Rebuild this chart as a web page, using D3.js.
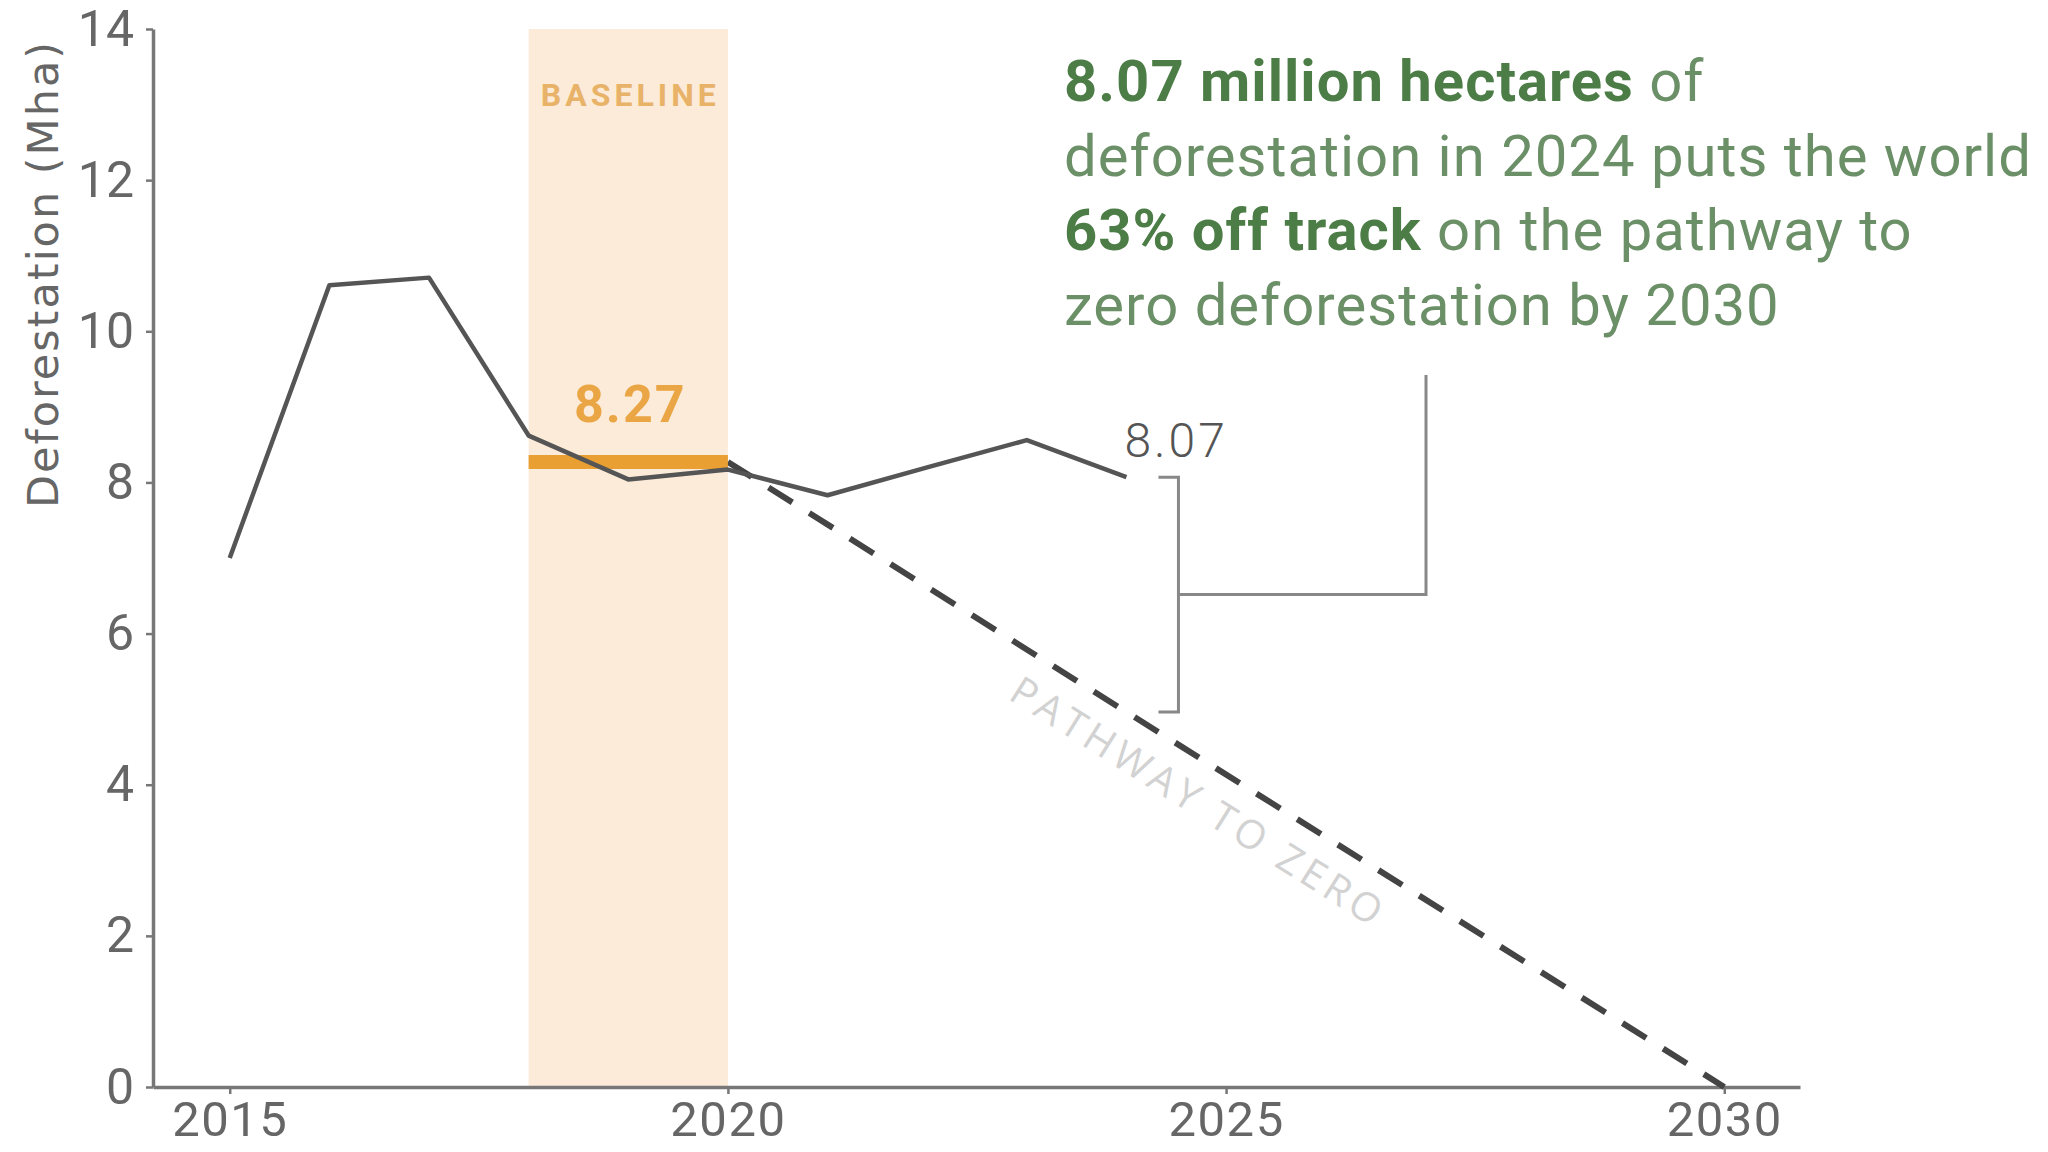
<!DOCTYPE html>
<html>
<head>
<meta charset="utf-8">
<script src="https://cdn.jsdelivr.net/npm/d3@7"></script>
<style>
  body { margin: 0; background: #fff; }
  svg { display: block; }
  .axis path, .axis line { stroke: #777; }
  .axis text { fill: #666; font-family: Roboto, sans-serif; }
</style>
</head>
<body>
<svg id="chart" width="2048" height="1152"></svg>
<script>
// data
var years = [2015, 2016, 2017, 2018, 2019, 2020, 2021, 2022, 2023, 2024];
var deforestation = [7.0, 10.61, 10.71, 8.62, 8.04, 8.17, 7.83, 8.2, 8.56, 8.07];
var baselineYears = [2018, 2020];
var baselineValue = 8.27;
var pathwayYears = [2020, 2030];
var pathwayValues = [8.27, 0];
var xTicks = [2015, 2020, 2025, 2030];
var yTicks = [0, 2, 4, 6, 8, 10, 12, 14];
var noteLines = [
  [["8.07 million hectares", true], [" of", false]],
  [["deforestation in 2024 puts the world", false]],
  [["63% off track", true], [" on the pathway to", false]],
  [["zero deforestation by 2030", false]]
];

var svg = d3.select("#chart");

var x = d3.scaleLinear().domain([2014.23, 2030.76]).range([153, 1800]);
var y = d3.scaleLinear().domain([0, 14]).range([1087, 29]);

// baseline band
svg.append("rect")
  .attr("x", x(baselineYears[0]))
  .attr("y", y(14))
  .attr("width", x(baselineYears[1]) - x(baselineYears[0]))
  .attr("height", y(0) - y(14))
  .attr("fill", "#fcebd8");

svg.append("text")
  .attr("x", (x(baselineYears[0]) + x(baselineYears[1])) / 2 + 2)
  .attr("y", 106)
  .attr("text-anchor", "middle")
  .attr("font-family", "Roboto, sans-serif")
  .attr("font-weight", "bold")
  .attr("font-size", 32)
  .attr("letter-spacing", 4)
  .attr("fill", "#e8b368")
  .text("BASELINE");

// axes
var xAxis = svg.append("g")
  .attr("class", "axis")
  .attr("transform", "translate(0," + y(0) + ")")
  .call(d3.axisBottom(x).tickValues(xTicks).tickFormat(d3.format("d")).tickSize(7).tickSizeOuter(0).tickPadding(6));
xAxis.select(".domain").attr("stroke-width", 3.5);
xAxis.selectAll("line").attr("stroke-width", 2.5);
xAxis.selectAll("text").attr("font-size", 49).attr("letter-spacing", 1.5).attr("dy", "0.74em");

var yAxis = svg.append("g")
  .attr("class", "axis")
  .attr("transform", "translate(" + x.range()[0] + ",0)")
  .call(d3.axisLeft(y).tickValues(yTicks).tickSize(7).tickSizeOuter(0).tickPadding(12));
yAxis.select(".domain").attr("stroke-width", 3.5);
yAxis.selectAll("line").attr("stroke-width", 2.5);
yAxis.selectAll("text").attr("font-size", 50);

svg.append("text")
  .attr("transform", "translate(58," + 274 + ") rotate(-90)")
  .attr("text-anchor", "middle")
  .attr("font-family", "'DejaVu Sans', sans-serif")
  .attr("font-size", 43)
  .attr("letter-spacing", 2)
  .attr("fill", "#666")
  .text("Deforestation (Mha)");

// pathway to zero
svg.append("line")
  .attr("x1", x(pathwayYears[0])).attr("y1", y(pathwayValues[0]))
  .attr("x2", x(pathwayYears[1])).attr("y2", y(pathwayValues[1]))
  .attr("stroke", "#444")
  .attr("stroke-width", 6)
  .attr("stroke-dasharray", "28,20");

var ang = Math.atan2(y(pathwayValues[1]) - y(pathwayValues[0]), x(pathwayYears[1]) - x(pathwayYears[0])) * 180 / Math.PI;
svg.append("text")
  .attr("transform", "translate(" + 1197 + "," + 805 + ") rotate(" + ang + ")")
  .attr("text-anchor", "middle")
  .attr("dominant-baseline", "middle")
  .attr("font-family", "'Open Sans', sans-serif")
  .attr("font-size", 40)
  .attr("letter-spacing", 5)
  .attr("fill", "#d2d2d2")
  .text("PATHWAY TO ZERO");

// baseline value bar
svg.append("line")
  .attr("x1", x(baselineYears[0])).attr("x2", x(baselineYears[1]))
  .attr("y1", y(baselineValue)).attr("y2", y(baselineValue))
  .attr("stroke", "#e99f32")
  .attr("stroke-width", 14);

svg.append("text")
  .attr("x", (x(baselineYears[0]) + x(baselineYears[1])) / 2 + 2)
  .attr("y", 422)
  .attr("text-anchor", "middle")
  .attr("font-family", "Roboto, sans-serif")
  .attr("font-weight", "bold")
  .attr("font-size", 52)
  .attr("letter-spacing", 2)
  .attr("fill", "#eaa545")
  .text(d3.format(".2f")(baselineValue));

// data line
svg.append("path")
  .datum(years.map(function(d, i) { return [d, deforestation[i]]; }))
  .attr("fill", "none")
  .attr("stroke", "#555")
  .attr("stroke-width", 4.5)
  .attr("stroke-linejoin", "round")
  .attr("d", d3.line().x(function(d) { return x(d[0]); }).y(function(d) { return y(d[1]); }));

var last = years.length - 1;
svg.append("text")
  .attr("x", x(years[last]) - 2)
  .attr("y", y(deforestation[last]) - 20)
  .attr("font-family", "Roboto, sans-serif")
  .attr("font-weight", 300)
  .attr("font-size", 48)
  .attr("letter-spacing", 3)
  .attr("fill", "#555")
  .text(d3.format(".2f")(deforestation[last]));

// gap bracket
var pathAt2024 = pathwayValues[0] + (pathwayValues[1] - pathwayValues[0]) * (years[last] - pathwayYears[0]) / (pathwayYears[1] - pathwayYears[0]);
var bx = x(years[last]) + 52;
var yTop = y(deforestation[last]), yBot = y(pathAt2024), yMid = (yTop + yBot) / 2;
svg.append("path")
  .attr("fill", "none")
  .attr("stroke", "#888")
  .attr("stroke-width", 3)
  .attr("d", "M" + (bx - 20) + "," + yTop + "H" + bx + "V" + yBot + "H" + (bx - 20) +
             "M" + bx + "," + yMid + "H" + 1426 + "V" + 375);

// annotation
var note = svg.append("text")
  .attr("font-family", "Roboto, sans-serif")
  .attr("font-size", 58)
  .attr("letter-spacing", 1)
  .attr("fill", "#6b8f66");
noteLines.forEach(function(line, i) {
  line.forEach(function(part, j) {
    var t = note.append("tspan").text(part[0]);
    if (j === 0) t.attr("x", 1064).attr("y", 101 + i * 74.5);
    if (part[1]) t.attr("font-weight", "bold").attr("fill", "#4d7d47");
  });
});
</script>
</body>
</html>
